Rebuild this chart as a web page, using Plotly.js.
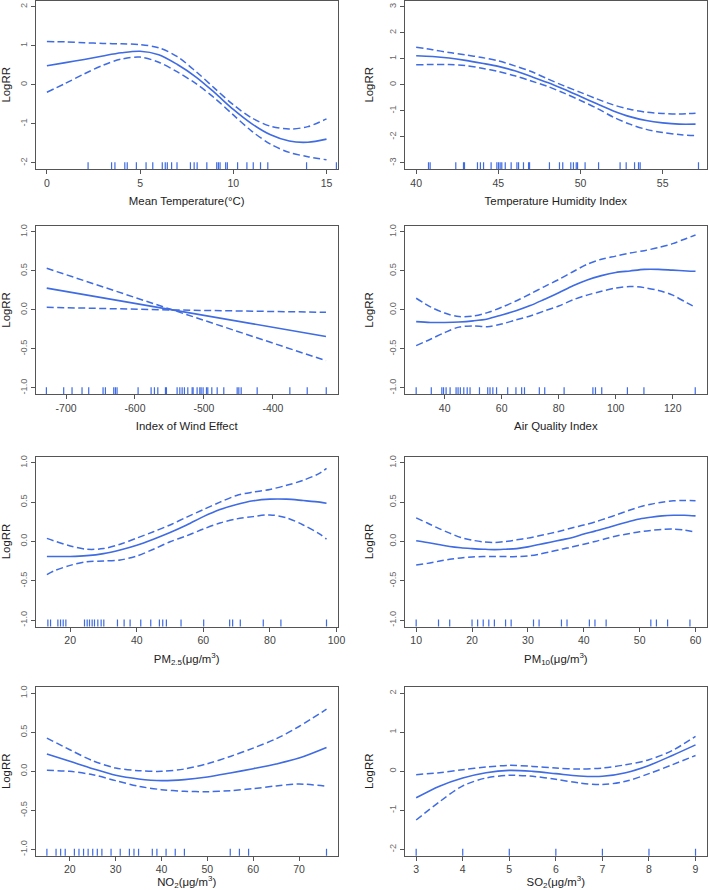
<!DOCTYPE html>
<html><head><meta charset="utf-8">
<script src="https://cdn.plot.ly/plotly-3.0.1.min.js"></script>
<style>html,body{margin:0;padding:0;background:#fff}#chart{width:708px;height:890px}</style>
</head><body><div id="chart"></div>
<script>
// ---------- Panel 1: Mean Temperature ----------
const tempX     = [0,1,2,3,4,5,6,7,8,9,10,11,12,13,14,15];
const tempFit   = [0.49,0.57,0.65,0.74,0.82,0.86,0.77,0.52,0.20,-0.20,-0.63,-1.00,-1.28,-1.44,-1.47,-1.39];
const tempUpper = [1.11,1.10,1.08,1.06,1.05,1.03,0.95,0.72,0.34,-0.09,-0.51,-0.85,-1.06,-1.13,-1.07,-0.87];
const tempLower = [-0.19,0.04,0.28,0.50,0.66,0.71,0.58,0.33,0.03,-0.34,-0.77,-1.19,-1.52,-1.73,-1.84,-1.92];
const tempRug   = [2.21,3.47,3.65,4.18,4.31,4.80,5.32,5.68,6.19,6.35,6.46,6.69,6.98,7.70,7.90,8.06,8.58,9.11,9.20,9.29,9.59,9.68,10.23,10.73,11.07,11.46,11.85,13.93,15.53];
const tempTitle = "Mean Temperature(°C)";
const tempXTicks = [0,5,10,15];
const tempXLabels = ["0","5","10","15"];

// ---------- Panel 2: Temperature Humidity Index ----------
const thiX     = [40,41,42,43,44,45,46,47,48,49,50,51,52,53,54,55,56,57];
const thiFit   = [1.12,1.09,1.03,0.94,0.83,0.71,0.54,0.32,0.09,-0.17,-0.45,-0.73,-1.00,-1.22,-1.37,-1.46,-1.51,-1.51];
const thiUpper = [1.44,1.35,1.24,1.15,1.05,0.92,0.73,0.51,0.23,-0.04,-0.29,-0.54,-0.77,-0.94,-1.05,-1.10,-1.12,-1.09];
const thiLower = [0.77,0.78,0.78,0.74,0.64,0.51,0.35,0.15,-0.06,-0.32,-0.60,-0.90,-1.24,-1.51,-1.71,-1.83,-1.91,-1.95];
const thiRug   = [40.75,40.85,42.41,42.88,42.94,43.73,43.91,44.10,44.56,44.91,45.01,45.11,45.21,45.42,45.78,46.13,46.23,46.53,46.84,46.90,48.11,48.72,48.92,49.41,49.57,49.74,49.82,50.28,51.10,52.41,52.78,53.29,53.53,53.63,57.18];
const thiTitle = "Temperature Humidity Index";
const thiXTicks = [40,45,50,55];
const thiXLabels = ["40","45","50","55"];

// ---------- Panel 3: Index of Wind Effect ----------
const windX     = [-728,-546,-323];
const windFit   = [0.28,0.00,-0.34];
const windUpper = [0.534,0.00,-0.65];
const windLower = [0.034,0.00,-0.03];
const windRug   = [-728.5,-703.4,-691.3,-676.8,-667.1,-646.3,-642.9,-630.8,-628.4,-626.0,-595.5,-576.6,-571.8,-566.9,-555.8,-554.4,-538.9,-535.0,-531.6,-528.3,-523.4,-517.1,-515.7,-509.9,-506.0,-504.1,-501.2,-496.3,-494.4,-488.6,-480.8,-471.2,-451.8,-449.4,-446.0,-422.8,-375.4,-350.2,-322.6];
const windTitle = "Index of Wind Effect";
const windXTicks = [-700,-600,-500,-400];
const windXLabels = ["-700","-600","-500","-400"];

// ---------- Panel 4: Air Quality Index ----------
const aqiX     = [30,35,40,45,50,55,60,65,70,75,80,85,90,95,100,105,110,115,120,125,128];
const aqiFit   = [-0.15,-0.16,-0.16,-0.155,-0.14,-0.115,-0.064,-0.01,0.056,0.137,0.22,0.31,0.385,0.44,0.48,0.50,0.52,0.52,0.51,0.50,0.496];
const aqiUpper = [0.15,0.04,-0.04,-0.085,-0.077,-0.034,0.034,0.115,0.205,0.30,0.39,0.49,0.585,0.65,0.69,0.73,0.76,0.80,0.85,0.92,0.96];
const aqiLower = [-0.457,-0.376,-0.29,-0.22,-0.205,-0.214,-0.18,-0.128,-0.077,-0.013,0.05,0.13,0.19,0.24,0.28,0.30,0.286,0.25,0.19,0.09,0.034];
const aqiRug   = [30,35.3,39.0,39.6,40.5,41.9,44.0,44.7,45.5,46.7,47.9,48.9,52.2,55.1,55.9,56.9,58.2,62.1,65.0,67.0,68.0,73.2,75.1,81.9,92.0,92.9,95.1,104.1,109.9,127.9];
const aqiTitle = "Air Quality Index";
const aqiXTicks = [40,60,80,100,120];
const aqiXLabels = ["40","60","80","100","120"];

// ---------- Panel 5: PM2.5 ----------
const pm25X     = [13,15,20,25,30,35,40,45,50,55,60,65,70,75,80,85,90,95,97];
const pm25Fit   = [-0.19,-0.19,-0.19,-0.18,-0.154,-0.107,-0.047,0.03,0.115,0.21,0.316,0.406,0.47,0.517,0.538,0.538,0.52,0.50,0.487];
const pm25Upper = [0.04,0.01,-0.056,-0.098,-0.09,-0.034,0.043,0.124,0.21,0.31,0.406,0.50,0.585,0.628,0.662,0.714,0.778,0.868,0.93];
const pm25Lower = [-0.42,-0.376,-0.303,-0.256,-0.248,-0.235,-0.184,-0.098,-0.004,0.073,0.158,0.235,0.287,0.316,0.338,0.30,0.21,0.094,0.03];
const pm25Rug   = [13.3,14.1,16.3,17.1,17.9,18.7,24.3,25.1,25.8,26.6,27.3,28.3,29.3,30.1,34.2,36.2,38.0,41.2,44.2,46.8,47.8,48.9,53.3,60.1,67.9,68.8,71.1,78.0,83.3,97.0];
const pm25Title = "PM<sub>2.5</sub>(μg/m<sup>3</sup>)";
const pm25XTicks = [20,40,60,80,100];
const pm25XLabels = ["20","40","60","80","100"];

// ---------- Panel 6: PM10 ----------
const pm10X     = [10,12,14,16,18,20,22,24,26,28,30,32,34,36,38,40,42,44,46,48,50,52,54,56,58,60];
const pm10Fit   = [0.01,-0.013,-0.038,-0.064,-0.08,-0.09,-0.098,-0.103,-0.098,-0.09,-0.068,-0.038,-0.009,0.021,0.051,0.094,0.132,0.171,0.214,0.252,0.286,0.308,0.325,0.333,0.333,0.325];
const pm10Upper = [0.30,0.235,0.167,0.107,0.051,0.017,-0.004,-0.013,0.0,0.021,0.043,0.073,0.103,0.137,0.175,0.209,0.248,0.295,0.342,0.393,0.44,0.474,0.50,0.517,0.521,0.517];
const pm10Lower = [-0.30,-0.278,-0.252,-0.226,-0.209,-0.197,-0.192,-0.192,-0.192,-0.192,-0.184,-0.162,-0.132,-0.098,-0.068,-0.034,0.0,0.038,0.073,0.098,0.124,0.141,0.154,0.158,0.145,0.12];
const pm10Rug   = [10,14,16,20,21,22,23,24,26,27,31,32,36,37,41,42,44,52,53,55,59];
const pm10Title = "PM<sub>10</sub>(μg/m<sup>3</sup>)";
const pm10XTicks = [10,20,30,40,50,60];
const pm10XLabels = ["10","20","30","40","50","60"];

// ---------- Panel 7: NO2 ----------
const no2X     = [15,20,25,30,35,40,45,50,55,60,65,70,76];
const no2Fit   = [0.221,0.128,0.034,-0.051,-0.098,-0.119,-0.106,-0.072,-0.021,0.034,0.094,0.17,0.306];
const no2Upper = [0.426,0.277,0.136,0.043,0.009,0.0,0.03,0.098,0.191,0.298,0.417,0.574,0.796];
const no2Lower = [0.013,0.0,-0.043,-0.119,-0.191,-0.234,-0.255,-0.26,-0.247,-0.221,-0.187,-0.162,-0.191];
const no2Rug   = [15,17,18,19,21,22,23,24,25,26,27,29,31,33,34,35,38,39,41,43,45,55,57,59,76];
const no2Title = "NO<sub>2</sub>(μg/m<sup>3</sup>)";
const no2XTicks = [20,30,40,50,60,70];
const no2XLabels = ["20","30","40","50","60","70"];

// ---------- Panel 8: SO2 ----------
const so2X     = [3,3.5,4,4.5,5,5.5,6,6.5,7,7.5,8,8.5,9];
const so2Fit   = [-0.678,-0.38,-0.17,-0.034,0.025,0.0,-0.059,-0.119,-0.127,-0.034,0.153,0.407,0.678];
const so2Upper = [-0.085,-0.034,0.042,0.11,0.153,0.127,0.085,0.059,0.085,0.169,0.297,0.534,0.898];
const so2Lower = [-1.246,-0.78,-0.373,-0.17,-0.102,-0.127,-0.203,-0.297,-0.339,-0.254,-0.059,0.169,0.407];
const so2Rug   = [3,4,5,6,7,8,9];
const so2Title = "SO<sub>2</sub>(μg/m<sup>3</sup>)";
const so2XTicks = [3,4,5,6,7,8,9];
const so2XLabels = ["3","4","5","6","7","8","9"];

// ---------- Y tick sets ----------
const yTicks2 = [-2,-1,0,1,2];
const yLabels2 = ["-2","-1","0","1","2"];
const yTicks3 = [-3,-2,-1,0,1,2,3];
const yLabels3 = ["-3","-2","-1","0","1","2","3"];
const yTicks1 = [-1,-0.5,0,0.5,1];
const yLabels1 = ["-1.0","-0.5","0.0","0.5","1.0"];
const yTitle = "LogRR";

// ---------- panel configuration ----------
const panels = [
  {x:tempX,fit:tempFit,up:tempUpper,lo:tempLower,rug:tempRug,title:tempTitle,xt:tempXTicks,xl:tempXLabels,yt:yTicks2,yl:yLabels2,xr:[-0.6,15.6],yr:[-2.16,2.16]},
  {x:thiX,fit:thiFit,up:thiUpper,lo:thiLower,rug:thiRug,title:thiTitle,xt:thiXTicks,xl:thiXLabels,yt:yTicks3,yl:yLabels3,xr:[39.32,57.68],yr:[-3.24,3.24]},
  {x:windX,fit:windFit,up:windUpper,lo:windLower,rug:windRug,title:windTitle,xt:windXTicks,xl:windXLabels,yt:yTicks1,yl:yLabels1,xr:[-744,-306],yr:[-1.08,1.08],linear:true},
  {x:aqiX,fit:aqiFit,up:aqiUpper,lo:aqiLower,rug:aqiRug,title:aqiTitle,xt:aqiXTicks,xl:aqiXLabels,yt:yTicks1,yl:yLabels1,xr:[26.08,131.92],yr:[-1.08,1.08]},
  {x:pm25X,fit:pm25Fit,up:pm25Upper,lo:pm25Lower,rug:pm25Rug,title:pm25Title,xt:pm25XTicks,xl:pm25XLabels,yt:yTicks1,yl:yLabels1,xr:[9.64,100.36],yr:[-1.08,1.08]},
  {x:pm10X,fit:pm10Fit,up:pm10Upper,lo:pm10Lower,rug:pm10Rug,title:pm10Title,xt:pm10XTicks,xl:pm10XLabels,yt:yTicks1,yl:yLabels1,xr:[8,62],yr:[-1.08,1.08]},
  {x:no2X,fit:no2Fit,up:no2Upper,lo:no2Lower,rug:no2Rug,title:no2Title,xt:no2XTicks,xl:no2XLabels,yt:yTicks1,yl:yLabels1,xr:[12.56,78.44],yr:[-1.08,1.08]},
  {x:so2X,fit:so2Fit,up:so2Upper,lo:so2Lower,rug:so2Rug,title:so2Title,xt:so2XTicks,xl:so2XLabels,yt:yTicks2,yl:yLabels2,xr:[2.76,9.24],yr:[-2.16,2.16]}
];

const W = 708, H = 890;
const colPx = [[35.7,337.7],[405,706.7]];
const rowPx = [[0.5,169.2],[225.7,394.2],[456.5,626.5],[687,855.7]];
const BLUE = "#3f6be3";
const FONT = "Liberation Sans, Arial, sans-serif";

const traces = [];
const layout = {
  width: W, height: H,
  margin: {l:0,r:0,t:0,b:0},
  paper_bgcolor: "#ffffff", plot_bgcolor: "#ffffff",
  showlegend: false,
  font: {family: FONT, color: "#333"}
};

panels.forEach((p, i) => {
  const n = i + 1;
  const xa = n === 1 ? "x" : "x" + n;
  const ya = n === 1 ? "y" : "y" + n;
  const col = i % 2, row = Math.floor(i / 2);
  const shape = p.linear ? "linear" : "spline";
  traces.push({x:p.x, y:p.up, xaxis:xa, yaxis:ya, mode:"lines", type:"scatter",
    line:{color:BLUE, width:1.5, dash:"7px,3.5px", shape:shape, smoothing:0.9}, hoverinfo:"skip"});
  traces.push({x:p.x, y:p.lo, xaxis:xa, yaxis:ya, mode:"lines", type:"scatter",
    line:{color:BLUE, width:1.5, dash:"7px,3.5px", shape:shape, smoothing:0.9}, hoverinfo:"skip"});
  traces.push({x:p.x, y:p.fit, xaxis:xa, yaxis:ya, mode:"lines", type:"scatter",
    line:{color:BLUE, width:1.6, shape:shape, smoothing:0.9}});
  traces.push({x:p.rug, y:p.rug.map(() => p.yr[0]), xaxis:xa, yaxis:ya, mode:"markers", type:"scatter",
    cliponaxis:true,
    marker:{symbol:"line-ns", size:10, color:BLUE, line:{color:BLUE, width:1.2}}, hoverinfo:"x"});

  const axCommon = {
    showline:true, mirror:true, linecolor:"#555", linewidth:1,
    showgrid:false, zeroline:false,
    ticks:"outside", ticklen:4, tickwidth:1, tickcolor:"#555",
    tickmode:"array", fixedrange:true
  };
  layout["xaxis" + (n === 1 ? "" : n)] = Object.assign({}, axCommon, {
    domain:[colPx[col][0]/W, colPx[col][1]/W],
    anchor: ya, range:p.xr, tickvals:p.xt, ticktext:p.xl,
    tickfont:{size:10.5, color:"#444", family:FONT},
    title:{text:p.title, font:{size:11.4, color:"#222", family:FONT}, standoff:9}
  });
  layout["yaxis" + (n === 1 ? "" : n)] = Object.assign({}, axCommon, {
    domain:[1 - rowPx[row][1]/H, 1 - rowPx[row][0]/H],
    anchor: xa, range:p.yr, tickvals:p.yt, ticktext:p.yl,
    tickangle:-90,
    tickfont:{size:9.2, color:"#666", family:FONT},
    title:{text:yTitle, font:{size:11.4, color:"#222", family:FONT}, standoff:12}
  });
});

Plotly.newPlot("chart", traces, layout, {displayModeBar:false, staticPlot:true});
</script>
</body></html>
